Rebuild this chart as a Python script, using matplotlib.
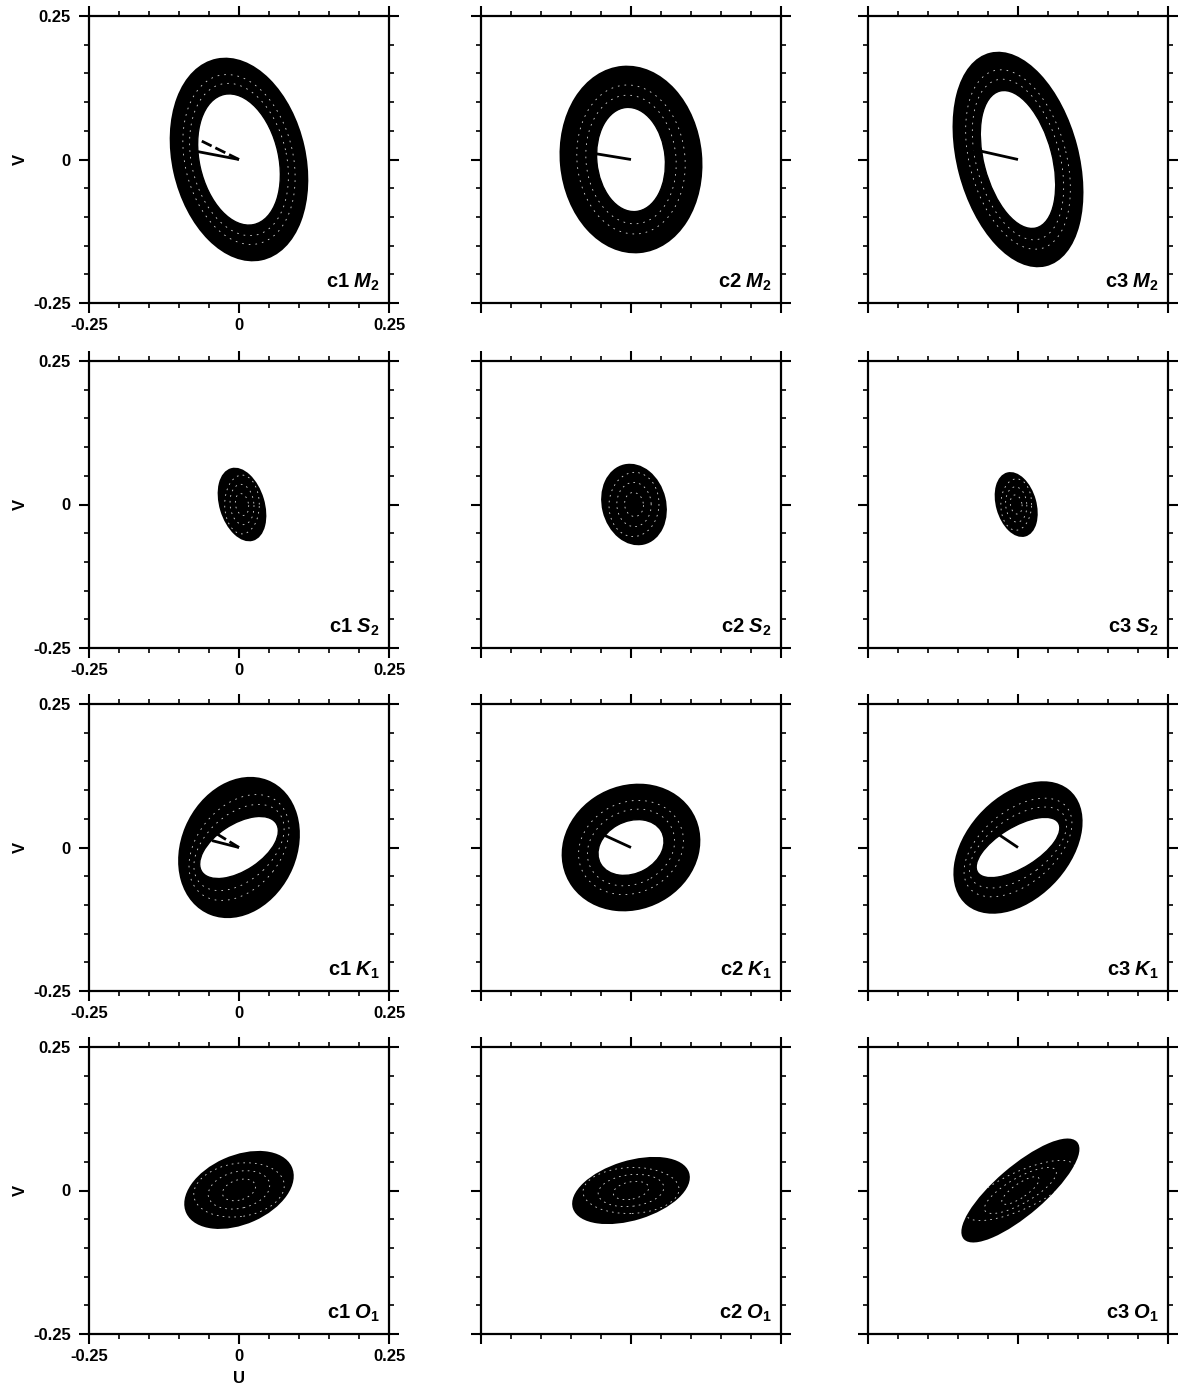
import numpy as np
import matplotlib
matplotlib.use('Agg')
import matplotlib.pyplot as plt
from matplotlib.patches import Ellipse
from matplotlib.ticker import MultipleLocator

plt.rcParams['font.family'] = ['Liberation Sans', 'DejaVu Sans']
plt.rcParams['mathtext.fontset'] = 'custom'
plt.rcParams['mathtext.it'] = 'Liberation Sans:italic:bold'
plt.rcParams['mathtext.rm'] = 'Liberation Sans:bold'

# constituents (rows) and current meter sites (columns)
constituents = ['M_2', 'S_2', 'K_1', 'O_1']
sites = ['c1', 'c2', 'c3']

# outer envelope of the ellipses: semi-major, semi-minor (m/s), inclination (deg)
outer_a = [[0.178, 0.162, 0.190],
           [0.064, 0.070, 0.056],
           [0.125, 0.118, 0.130],
           [0.095, 0.100, 0.125]]
outer_b = [[0.110, 0.117, 0.100],
           [0.036, 0.052, 0.032],
           [0.095, 0.105, 0.085],
           [0.058, 0.050, 0.040]]
outer_inc = [[102, 95, 104],
             [106, 103, 105],
             [68, 35, 50],
             [25, 18, 42]]
center_u = [[0.000, 0.000, 0.000],
            [0.005, 0.005, -0.003],
            [0.000, 0.000, 0.000],
            [0.000, 0.000, 0.004]]
center_v = [[0.000, 0.000, 0.000],
            [0.000, 0.000, 0.000],
            [0.000, 0.000, 0.000],
            [0.001, 0.000, 0.000]]

# inner (smallest) ellipse, 0 = none
inner_a = [[0.116, 0.091, 0.123],
           [0.0, 0.0, 0.0],
           [0.075, 0.058, 0.080],
           [0.0, 0.0, 0.0]]
inner_b = [[0.066, 0.057, 0.057],
           [0.0, 0.0, 0.0],
           [0.040, 0.045, 0.035],
           [0.0, 0.0, 0.0]]
inner_inc = [[102, 95, 104],
             [0, 0, 0],
             [35, 30, 33],
             [0, 0, 0]]

# phase vectors (end points), None = not drawn
phase_solid = [[(-0.070, 0.014), (-0.070, 0.012), (-0.085, 0.020)],
               [None, None, None],
               [(-0.045, 0.012), (-0.050, 0.024), (-0.037, 0.026)],
               [None, None, None]]
phase_dashed = [[(-0.062, 0.032), None, None],
                [None, None, None],
                [(-0.042, 0.027), None, None],
                [None, None, None]]

fig = plt.figure(figsize=(11.82, 13.88), dpi=100)
FW, FH = 1182.0, 1388.0
col_left = [89, 481, 868]
row_top = [16, 361, 704, 1047]
W, H = 300, 287

streaks = [0.3, 0.55, 0.8]

for i in range(4):
    for j in range(3):
        ax = fig.add_axes([col_left[j] / FW, 1 - (row_top[i] + H) / FH, W / FW, H / FH])
        ax.set_xlim(-0.25, 0.25)
        ax.set_ylim(-0.25, 0.25)
        cu, cv = center_u[i][j], center_v[i][j]
        ao, bo, io = outer_a[i][j], outer_b[i][j], outer_inc[i][j]
        ax.add_patch(Ellipse((cu, cv), 2 * ao, 2 * bo, angle=io,
                             fc='black', ec='black', lw=1.5))
        ai, bi, ii = inner_a[i][j], inner_b[i][j], inner_inc[i][j]
        if ai > 0:
            for f in streaks[:2]:
                ax.add_patch(Ellipse((cu, cv), 2 * (ai + f * (ao - ai)), 2 * (bi + f * (bo - bi)),
                                     angle=ii + f * (io - ii), fc='none', ec='white',
                                     lw=0.6, ls=(0, (2, 6)), alpha=0.85))
            ax.add_patch(Ellipse((cu, cv), 2 * ai, 2 * bi, angle=ii,
                                 fc='white', ec='black', lw=1.0))
        else:
            for f in streaks:
                ax.add_patch(Ellipse((cu, cv), 2 * f * ao, 2 * f * bo, angle=io - 20 * f,
                                     fc='none', ec='white', lw=0.6, ls=(0, (2, 5)), alpha=0.85))

        if phase_solid[i][j] is not None:
            pu, pv = phase_solid[i][j]
            ax.plot([0, pu], [0, pv], color='black', lw=2, solid_capstyle='butt')
        if phase_dashed[i][j] is not None:
            pu, pv = phase_dashed[i][j]
            ax.plot([0, pu], [0, pv], color='black', lw=2, ls=(0, (4, 1.5)))

        ax.set_xticks([-0.25, 0, 0.25])
        ax.set_yticks([-0.25, 0, 0.25])
        ax.xaxis.set_minor_locator(MultipleLocator(0.05))
        ax.yaxis.set_minor_locator(MultipleLocator(0.05))
        ax.tick_params(which='both', direction='out', top=True, right=True)
        ax.tick_params(which='major', length=7, width=1.5)
        ax.tick_params(which='minor', length=3.5, width=1.2)
        ax.tick_params(axis='x', pad=4)
        ax.tick_params(axis='y', pad=6)
        for s in ax.spines.values():
            s.set_linewidth(1.6)

        if j == 0:
            ax.set_xticklabels(['-0.25', '0', '0.25'], fontsize=12, fontweight='bold')
            ax.set_yticklabels(['-0.25', '0', '0.25'], fontsize=12, fontweight='bold')
            ax.text(-0.23, 0.5, 'V', transform=ax.transAxes, rotation=90,
                    ha='center', va='center', fontsize=12, fontweight='bold')
            if i == 3:
                ax.text(0.5, -0.155, 'U', transform=ax.transAxes,
                        ha='center', va='center', fontsize=12, fontweight='bold')
        else:
            ax.tick_params(labelbottom=False, labelleft=False)

        ax.text(0.97, 0.035, sites[j] + ' $' + constituents[i] + '$', transform=ax.transAxes,
                ha='right', va='bottom', fontsize=14.5, fontweight='bold')

fig.savefig('out.png', dpi=100)
